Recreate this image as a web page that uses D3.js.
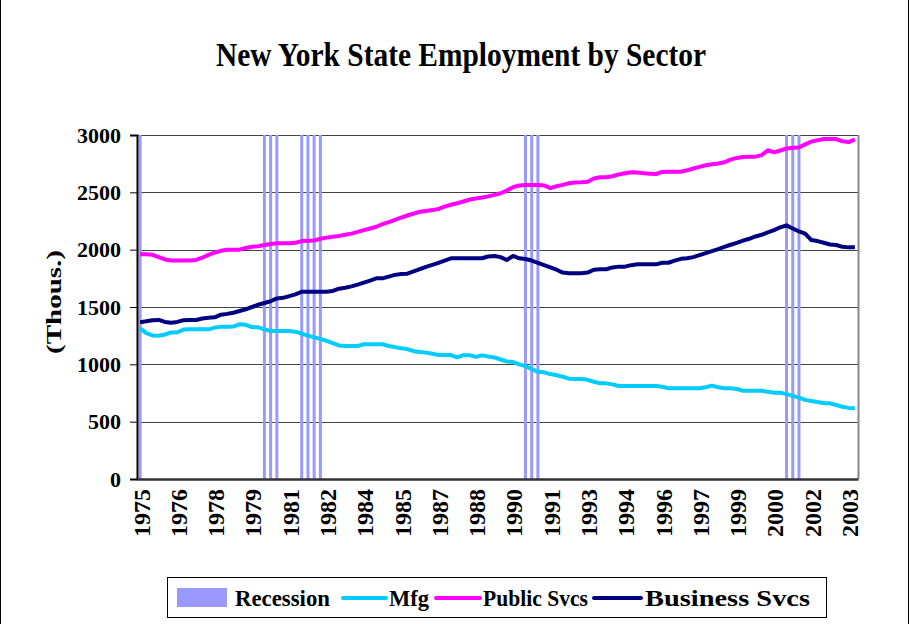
<!DOCTYPE html>
<html>
<head>
<meta charset="utf-8">
<script src="https://cdn.jsdelivr.net/npm/d3@7"></script>
<style>
  body { margin: 0; background: #fff; }
  svg { display: block; font-family: "Liberation Serif", "Times New Roman", serif; font-weight: bold; }
</style>
</head>
<body>
<svg id="chart"></svg>
<script>
// quarterly categories 1975Q1 .. 2003Q4
let quarters = []
for (let yr = 1975; yr <= 2003; yr++) {
    for (let q = 1; q <= 4; q++) quarters.push(yr + "Q" + q)
}

let xTickLabels = ["1975","1976","1978","1979","1981","1982","1984","1985","1987","1988",
                   "1990","1991","1993","1994","1996","1997","1999","2000","2002","2003"]
let yTicks = [0, 500, 1000, 1500, 2000, 2500, 3000]

let recessionQuarters = ["1975Q1","1980Q1","1980Q2","1980Q3","1981Q3","1981Q4","1982Q1","1982Q2",
                         "1990Q3","1990Q4","1991Q1","2001Q1","2001Q2","2001Q3"]
let recessionValue = 3000

let mfg = [1314,1272,1252,1250,1260,1278,1280,1303,1305,1305,1305,1305,1320,1328,1328,1330,
           1349,1345,1325,1323,1305,1291,1291,1291,1291,1285,1268,1250,1235,1222,1205,1185,
           1165,1160,1160,1160,1175,1175,1175,1175,1160,1150,1140,1133,1115,1108,1102,1092,
           1082,1081,1081,1060,1080,1080,1065,1078,1068,1060,1042,1025,1020,1000,985,958,
           935,930,915,905,892,875,872,872,865,848,834,834,825,811,811,811,
           811,811,811,811,805,792,791,791,791,791,791,800,814,800,791,791,
           785,770,770,770,770,760,753,753,740,725,710,690,680,672,660,660,
           645,630,620,618]

let publicSvcs = [1960,1960,1955,1935,1915,1905,1905,1905,1905,1910,1930,1955,1975,1990,2000,2000,
                  2000,2015,2025,2030,2040,2050,2055,2055,2055,2060,2075,2078,2080,2095,2105,2113,
                  2120,2130,2140,2155,2170,2185,2200,2222,2240,2260,2280,2298,2315,2331,2338,2345,
                  2355,2375,2392,2405,2420,2437,2447,2455,2465,2478,2492,2515,2545,2560,2564,2564,
                  2564,2560,2537,2553,2565,2580,2586,2588,2592,2620,2631,2631,2640,2656,2667,2675,
                  2672,2666,2663,2660,2678,2680,2680,2680,2692,2708,2722,2736,2745,2752,2762,2785,
                  2800,2808,2810,2811,2825,2867,2848,2865,2882,2888,2892,2918,2942,2955,2965,2965,
                  2965,2945,2938,2962]

let businessSvcs = [1367,1375,1385,1387,1370,1363,1370,1385,1387,1387,1400,1407,1410,1433,1440,1450,
                    1465,1480,1500,1520,1535,1550,1575,1580,1595,1610,1633,1633,1633,1633,1633,1640,
                    1660,1668,1680,1695,1712,1730,1750,1750,1765,1780,1788,1790,1810,1830,1850,1867,
                    1885,1905,1925,1925,1925,1925,1925,1925,1940,1945,1935,1910,1945,1925,1918,1905,
                    1885,1865,1845,1825,1800,1794,1794,1794,1800,1825,1829,1829,1845,1852,1852,1865,
                    1872,1872,1872,1872,1886,1886,1905,1920,1925,1935,1953,1970,1988,2005,2025,2043,
                    2060,2078,2095,2115,2130,2150,2170,2195,2212,2185,2160,2140,2084,2075,2060,2045,
                    2041,2025,2020,2020]

let seriesNames = ["Mfg", "Public Svcs", "Business Svcs"]
let seriesColors = ["#00CCFF", "#FF00FF", "#000080"]
let recessionColor = "#9999FF"

let width = 911
let height = 624
let plotLeft = 137, plotRight = 858, plotTop = 135, plotBottom = 479

let svg = d3.select("#chart").attr("width", width).attr("height", height)

let xScale = d3.scaleBand().domain(quarters).range([plotLeft, plotRight])
let yScale = d3.scaleLinear().domain([0, 3000]).range([plotBottom, plotTop])
let cx = (q) => xScale(q) + xScale.bandwidth() / 2

// outer frame
svg.append("rect").attr("x", 0.5).attr("y", -5).attr("width", 908).attr("height", 640)
   .attr("fill", "none").attr("stroke", "#000")

svg.append("text")
   .attr("x", 461).attr("y", 66)
   .attr("text-anchor", "middle")
   .style("font-size", "33px")
   .attr("textLength", 490).attr("lengthAdjust", "spacingAndGlyphs")
   .text("New York State Employment by Sector")

// gridlines
svg.append("g").selectAll("line")
   .data(yTicks.filter(d => d > 0))
   .enter().append("line")
   .attr("x1", plotLeft).attr("x2", plotRight)
   .attr("y1", d => Math.round(yScale(d)) + 0.5).attr("y2", d => Math.round(yScale(d)) + 0.5)
   .attr("stroke", "#444").attr("stroke-width", 1.2)

// plot right border
svg.append("line").attr("x1", plotRight + 0.5).attr("x2", plotRight + 0.5)
   .attr("y1", plotTop).attr("y2", plotBottom).attr("stroke", "#888").attr("stroke-width", 2)

// recession bars
svg.append("g").selectAll("rect")
   .data(recessionQuarters)
   .enter().append("rect")
   .attr("x", d => cx(d) - 1.5)
   .attr("width", 3)
   .attr("y", yScale(recessionValue))
   .attr("height", plotBottom - yScale(recessionValue))
   .attr("fill", recessionColor)

// series lines
let lineGen = d3.line()
   .x((d, i) => cx(quarters[i]))
   .y(d => yScale(d))

let allSeries = [mfg, publicSvcs, businessSvcs]
svg.append("g").selectAll("path")
   .data(allSeries)
   .enter().append("path")
   .attr("d", d => lineGen(d))
   .attr("fill", "none")
   .attr("stroke", (d, i) => seriesColors[i])
   .attr("stroke-width", 4)
   .attr("stroke-linejoin", "round")

// axes
let yAxis = d3.axisLeft(yScale).tickValues(yTicks).tickSize(7).tickPadding(9).tickFormat(d3.format("d"))
let yG = svg.append("g").attr("transform", "translate(" + plotLeft + ",0)").call(yAxis)
yG.select(".domain").attr("stroke", "#000").attr("stroke-width", 2)
yG.selectAll(".tick line").attr("stroke", "#000")
yG.selectAll("text").style("font-size", "22px").style("font-family", "Liberation Serif").style("font-weight", "bold")

let xTicks = quarters.filter((d, i) => i % 6 == 0)
let xAxis = d3.axisBottom(xScale).tickValues(xTicks).tickSize(0)
              .tickFormat((d, i) => xTickLabels[i])
let xG = svg.append("g").attr("transform", "translate(0," + plotBottom + ")").call(xAxis)
xG.select(".domain").attr("stroke", "#333").attr("stroke-width", 2.5)
xG.selectAll("text")
  .style("font-size", "24px").style("font-family", "Liberation Serif").style("font-weight", "bold")
  .attr("text-anchor", "end")
  .attr("transform", "rotate(-90)")
  .attr("x", -10).attr("y", 1).attr("dy", "0.35em")

svg.append("text")
   .attr("transform", "translate(61,302) rotate(-90)")
   .attr("text-anchor", "middle")
   .style("font-size", "22px")
   .attr("textLength", 104).attr("lengthAdjust", "spacingAndGlyphs")
   .text("(Thous.)")

// legend
let legend = svg.append("g")
legend.append("rect").attr("x", 167.5).attr("y", 577.5).attr("width", 659).attr("height", 40)
      .attr("fill", "#fff").attr("stroke", "#000")
legend.append("rect").attr("x", 177).attr("y", 588).attr("width", 50).attr("height", 19)
      .attr("fill", recessionColor)
let legendItems = [
    {label: "Recession", tx: 235, tw: 95},
    {label: seriesNames[0], lx1: 343, lx2: 386, tx: 389, tw: 40, color: seriesColors[0]},
    {label: seriesNames[1], lx1: 436, lx2: 480, tx: 483, tw: 105, color: seriesColors[1]},
    {label: seriesNames[2], lx1: 594, lx2: 641, tx: 645, tw: 165, color: seriesColors[2]}
]
legendItems.forEach(d => {
    if (d.color) {
        legend.append("line").attr("x1", d.lx1).attr("x2", d.lx2).attr("y1", 598).attr("y2", 598)
              .attr("stroke", d.color).attr("stroke-width", 4).attr("stroke-linecap", "round")
    }
    legend.append("text").attr("x", d.tx).attr("y", 606)
          .style("font-size", "23px")
          .attr("textLength", d.tw).attr("lengthAdjust", "spacingAndGlyphs")
          .text(d.label)
})
</script>
</body>
</html>
